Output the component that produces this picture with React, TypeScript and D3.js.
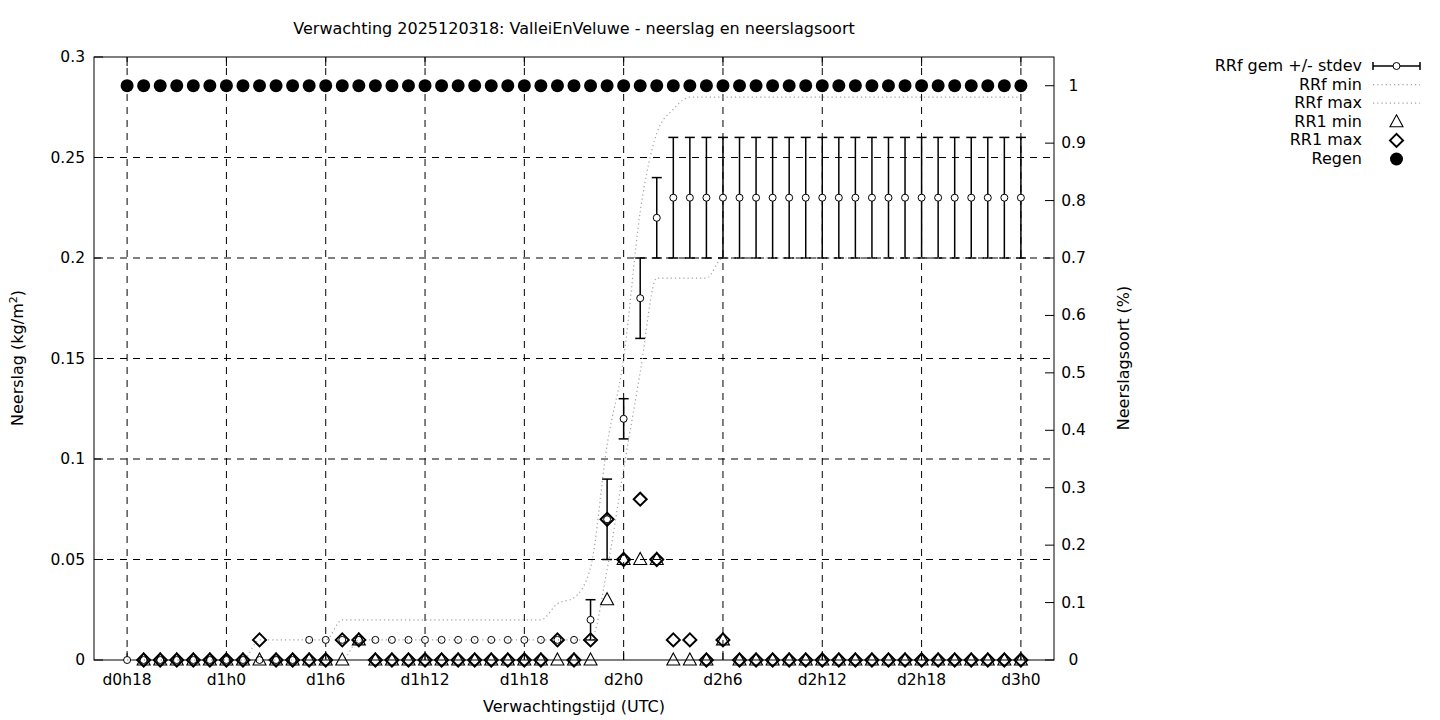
import React from 'react';
import * as d3 from 'd3';

// ---- data (hour offsets from d0h0) ----
const hours = [18, 19, 20, 21, 22, 23, 24, 25, 26, 27, 28, 29, 30, 31, 32, 33, 34, 35, 36, 37, 38, 39, 40, 41, 42, 43, 44, 45, 46, 47, 48, 49, 50, 51, 52, 53, 54, 55, 56, 57, 58, 59, 60, 61, 62, 63, 64, 65, 66, 67, 68, 69, 70, 71, 72];

const rrfMean = [0, 0, 0, 0, 0, 0, 0, 0, 0, 0, 0, 0.01, 0.01, 0.01, 0.01, 0.01, 0.01, 0.01, 0.01, 0.01, 0.01, 0.01, 0.01, 0.01, 0.01, 0.01, 0.01, 0.01, 0.02, 0.07, 0.12, 0.18, 0.22, 0.23, 0.23, 0.23, 0.23, 0.23, 0.23, 0.23, 0.23, 0.23, 0.23, 0.23, 0.23, 0.23, 0.23, 0.23, 0.23, 0.23, 0.23, 0.23, 0.23, 0.23, 0.23];
const rrfStdev = [0, 0, 0, 0, 0, 0, 0, 0, 0, 0, 0, 0, 0, 0, 0, 0, 0, 0, 0, 0, 0, 0, 0, 0, 0, 0, 0, 0, 0.01, 0.02, 0.01, 0.02, 0.02, 0.03, 0.03, 0.03, 0.03, 0.03, 0.03, 0.03, 0.03, 0.03, 0.03, 0.03, 0.03, 0.03, 0.03, 0.03, 0.03, 0.03, 0.03, 0.03, 0.03, 0.03, 0.03];
const rrfMin = [0, 0, 0, 0, 0, 0, 0, 0, 0, 0, 0, 0, 0, 0, 0.01, 0.01, 0.01, 0.01, 0.01, 0.01, 0.01, 0.01, 0.01, 0.01, 0.01, 0.01, 0.01, 0.01, 0.01, 0.045, 0.095, 0.143, 0.19, 0.19, 0.19, 0.19, 0.2, 0.2, 0.2, 0.2, 0.2, 0.2, 0.2, 0.2, 0.2, 0.2, 0.2, 0.2, 0.2, 0.2, 0.2, 0.2, 0.2, 0.2, 0.2];
const rrfMax = [0, 0, 0, 0, 0, 0, 0, 0, 0.01, 0.01, 0.01, 0.01, 0.01, 0.02, 0.02, 0.02, 0.02, 0.02, 0.02, 0.02, 0.02, 0.02, 0.02, 0.02, 0.02, 0.02, 0.028, 0.031, 0.046, 0.107, 0.15, 0.223, 0.262, 0.274, 0.28, 0.28, 0.28, 0.28, 0.28, 0.28, 0.28, 0.28, 0.28, 0.28, 0.28, 0.28, 0.28, 0.28, 0.28, 0.28, 0.28, 0.28, 0.28, 0.28, 0.28];
const rr1Min: (number | null)[] = [null, 0, 0, 0, 0, 0, 0, 0, 0, 0, 0, 0, 0, 0, 0.01, 0, 0, 0, 0, 0, 0, 0, 0, 0, 0, 0, 0, 0, 0, 0.03, 0.05, 0.05, 0.05, 0, 0, 0, 0.01, 0, 0, 0, 0, 0, 0, 0, 0, 0, 0, 0, 0, 0, 0, 0, 0, 0, 0];
const rr1Max: (number | null)[] = [null, 0, 0, 0, 0, 0, 0, 0, 0.01, 0, 0, 0, 0, 0.01, 0.01, 0, 0, 0, 0, 0, 0, 0, 0, 0, 0, 0, 0.01, 0, 0.01, 0.07, 0.05, 0.08, 0.05, 0.01, 0.01, 0, 0.01, 0, 0, 0, 0, 0, 0, 0, 0, 0, 0, 0, 0, 0, 0, 0, 0, 0, 0];
const regen = [1, 1, 1, 1, 1, 1, 1, 1, 1, 1, 1, 1, 1, 1, 1, 1, 1, 1, 1, 1, 1, 1, 1, 1, 1, 1, 1, 1, 1, 1, 1, 1, 1, 1, 1, 1, 1, 1, 1, 1, 1, 1, 1, 1, 1, 1, 1, 1, 1, 1, 1, 1, 1, 1, 1];

const xTickValues = [18, 24, 30, 36, 42, 48, 54, 60, 66, 72];
const xTickLabels = ['d0h18', 'd1h0', 'd1h6', 'd1h12', 'd1h18', 'd2h0', 'd2h6', 'd2h12', 'd2h18', 'd3h0'];
const yTickValues = [0, 0.05, 0.1, 0.15, 0.2, 0.25, 0.3];
const yTickLabels = ['0', '0.05', '0.1', '0.15', '0.2', '0.25', '0.3'];
const y2TickValues = [0, 0.1, 0.2, 0.3, 0.4, 0.5, 0.6, 0.7, 0.8, 0.9, 1];
const y2TickLabels = ['0', '0.1', '0.2', '0.3', '0.4', '0.5', '0.6', '0.7', '0.8', '0.9', '1'];

const legendLabels = ['RRf gem +/- stdev', 'RRf min', 'RRf max', 'RR1 min', 'RR1 max', 'Regen'];

const title = 'Verwachting 2025120318: ValleiEnVeluwe - neerslag en neerslagsoort';

const FONT = '"DejaVu Sans", Verdana, sans-serif';
const FS = 16;
const TFS = 15.5;

const L = 94, R = 1054, T = 57, B = 660;

const x = d3.scaleLinear().domain([16, 74]).range([L, R]);
const y = d3.scaleLinear().domain([0, 0.3]).range([B, T]);
const y2 = d3.scaleLinear().domain([0, 1.05]).range([B, T]);

const triPath = 'M0,-7L6.5,5L-6.5,5Z';
const diaPath = 'M0,-6.5L6.5,0L0,6.5L-6.5,0Z';

const lineGen = d3
  .line<number>()
  .x((_, i) => x(hours[i]))
  .y((d) => y(d))
  .curve(d3.curveMonotoneX);

const DOT = { stroke: '#a0a0a0', strokeWidth: 1.2, strokeDasharray: '1.2,3', fill: 'none' } as const;
const GRID = { stroke: '#000', strokeWidth: 1, strokeDasharray: '7,6' } as const;

export default function App() {
  const legendX = 1362;
  const legendY0 = 66;
  const legendDy = 18.6;
  const sx0 = 1373, sx1 = 1420, sxm = 1396.5;

  return (
    <svg
      width={1440}
      height={720}
      style={{ position: 'absolute', left: 0, top: 0, background: '#fff', display: 'block' }}
      fontFamily={FONT}
      fontSize={FS}
    >
      <rect x={0} y={0} width={1440} height={720} fill="#fff" />

      {/* grid */}
      {xTickValues.map((v) => (
        <line key={'gx' + v} x1={x(v)} x2={x(v)} y1={B} y2={T} {...GRID} />
      ))}
      {yTickValues.filter((v) => v > 0 && v < 0.3).map((v) => (
        <line key={'gy' + v} x1={L} x2={R} y1={y(v)} y2={y(v)} {...GRID} />
      ))}

      {/* ticks */}
      {xTickValues.map((v) => (
        <g key={'tx' + v}>
          <line x1={x(v)} x2={x(v)} y1={B} y2={B - 9} stroke="#000" />
          <line x1={x(v)} x2={x(v)} y1={T} y2={T + 9} stroke="#000" />
        </g>
      ))}
      {yTickValues.map((v) => (
        <line key={'ty' + v} x1={L} x2={L + 9} y1={y(v)} y2={y(v)} stroke="#000" />
      ))}
      {y2TickValues.map((v) => (
        <line key={'ty2' + v} x1={R} x2={R - 9} y1={y2(v)} y2={y2(v)} stroke="#000" />
      ))}

      {/* border */}
      <rect x={L} y={T} width={R - L} height={B - T} fill="none" stroke="#000" strokeWidth={1} />

      {/* tick labels */}
      {xTickValues.map((v, i) => (
        <text key={'lx' + v} x={x(v)} y={B + 25} textAnchor="middle" fontSize={TFS}>
          {xTickLabels[i]}
        </text>
      ))}
      {yTickValues.map((v, i) => (
        <text key={'ly' + v} x={L - 9} y={y(v) + 5} textAnchor="end" fontSize={TFS}>
          {yTickLabels[i]}
        </text>
      ))}
      {y2TickValues.map((v, i) => (
        <text key={'ly2' + v} x={1073.5} y={y2(v) + 5} textAnchor="middle" fontSize={TFS}>
          {y2TickLabels[i]}
        </text>
      ))}

      {/* axis titles */}
      <text x={574} y={34} textAnchor="middle">{title}</text>
      <text x={574} y={712} textAnchor="middle">Verwachtingstijd (UTC)</text>
      <text transform={`translate(23,${358}) rotate(-90)`} textAnchor="middle">
        Neerslag (kg/m<tspan dy={-6} fontSize={11}>2</tspan><tspan dy={6}>)</tspan>
      </text>
      <text transform={`translate(1129,${358}) rotate(-90)`} textAnchor="middle">
        Neerslagsoort (%)
      </text>

      {/* error bars + mean */}
      {hours.map((h, i) =>
        rrfStdev[i] > 0 ? (
          <g key={'eb' + h} stroke="#000" strokeWidth={1.5}>
            <line x1={x(h)} x2={x(h)} y1={y(rrfMean[i] - rrfStdev[i])} y2={y(rrfMean[i] + rrfStdev[i])} />
            <line x1={x(h) - 5} x2={x(h) + 5} y1={y(rrfMean[i] - rrfStdev[i])} y2={y(rrfMean[i] - rrfStdev[i])} />
            <line x1={x(h) - 5} x2={x(h) + 5} y1={y(rrfMean[i] + rrfStdev[i])} y2={y(rrfMean[i] + rrfStdev[i])} />
          </g>
        ) : null
      )}
      {hours.map((h, i) => (
        <circle key={'m' + h} cx={x(h)} cy={y(rrfMean[i])} r={3.5} fill="#fff" stroke="#000" strokeWidth={1} />
      ))}

      {/* min / max lines */}
      <path d={lineGen(rrfMin) || ''} {...DOT} />
      <path d={lineGen(rrfMax) || ''} {...DOT} />

      {/* RR1 min triangles */}
      {hours.map((h, i) =>
        rr1Min[i] === null ? null : (
          <path key={'t' + h} d={triPath} transform={`translate(${x(h)},${y(rr1Min[i] as number)})`} fill="none" stroke="#000" strokeWidth={1.1} />
        )
      )}
      {/* RR1 max diamonds */}
      {hours.map((h, i) =>
        rr1Max[i] === null ? null : (
          <path key={'d' + h} d={diaPath} transform={`translate(${x(h)},${y(rr1Max[i] as number)})`} fill="none" stroke="#000" strokeWidth={2} />
        )
      )}
      {/* Regen */}
      {hours.map((h, i) => (
        <circle key={'r' + h} cx={x(h)} cy={y2(regen[i])} r={6.5} fill="#000" />
      ))}

      {/* legend */}
      {legendLabels.map((lab, i) => (
        <text key={'lg' + i} x={legendX} y={legendY0 + i * legendDy + 5} textAnchor="end">
          {lab}
        </text>
      ))}
      <g stroke="#000" strokeWidth={1.5}>
        <line x1={sx0} x2={sx1} y1={legendY0} y2={legendY0} />
        <line x1={sx0} x2={sx0} y1={legendY0 - 4} y2={legendY0 + 4} />
        <line x1={sx1} x2={sx1} y1={legendY0 - 4} y2={legendY0 + 4} />
      </g>
      <circle cx={sxm} cy={legendY0} r={3.5} fill="#fff" stroke="#000" />
      <line x1={sx0} x2={sx1} y1={legendY0 + legendDy} y2={legendY0 + legendDy} {...DOT} />
      <line x1={sx0} x2={sx1} y1={legendY0 + 2 * legendDy} y2={legendY0 + 2 * legendDy} {...DOT} />
      <path d={triPath} transform={`translate(${sxm},${legendY0 + 3 * legendDy})`} fill="none" stroke="#000" strokeWidth={1.1} />
      <path d={diaPath} transform={`translate(${sxm},${legendY0 + 4 * legendDy})`} fill="none" stroke="#000" strokeWidth={2} />
      <circle cx={sxm} cy={legendY0 + 5 * legendDy} r={6.5} fill="#000" />
    </svg>
  );
}
